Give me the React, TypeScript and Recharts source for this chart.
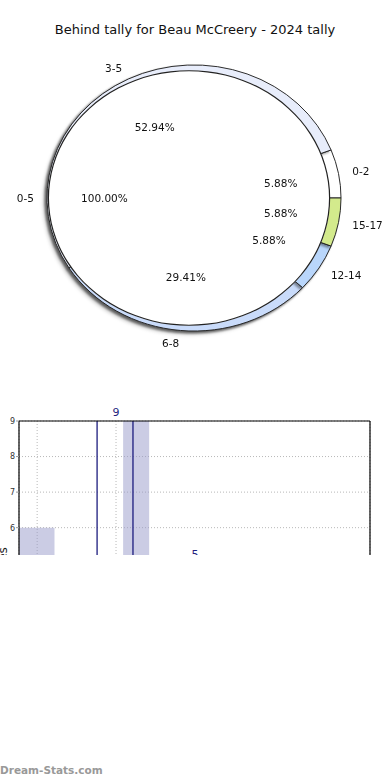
import React from 'react';
import {
  PieChart, Pie, Cell, ComposedChart, Line, XAxis, YAxis, CartesianGrid,
  ReferenceArea, ReferenceLine,
} from 'recharts';

// outer ring: tally ranges
const ringNames = ['0-2', '3-5', '6-8', '12-14', '15-17'];
const ringValues = [1, 9, 5, 1, 1];
const ringColors = ['#ffffff', '#e8edfb', '#c9dbfa', '#b9d6fb', '#d3ea8c'];

// inner pie
const coreNames = ['0-5'];
const coreValues = [17];

// lower chart
const yTicks = [0, 1, 2, 3, 4, 5, 6, 7, 8, 9];
const xTicks = [1, 2];
const xDomain = [0.77, 5.22];
const binStarts = [0.77, 2.09];
const binEnds = [1.22, 2.42];
const binValues = [6, 9];
const markerGames = [1.76, 2.215];
const labelGames = [2, 3];
const labelValues = [9, 5];

const ringData = ringNames.map((name, i) => ({ name, value: ringValues[i] }));
const coreData = coreNames.map((name, i) => ({ name, value: coreValues[i] }));
const labelPoints = labelGames.map((game, i) => ({ game, value: labelValues[i] }));

const RAD = Math.PI / 180;
const SQUASH = 0.905;
const PIE_CY = 198;
const FONT = 'DejaVu Sans';

// the whole pie svg is squashed into an ellipse, so text is stretched back
const renderPieLabel = (props: any) => {
  const { cx, cy, midAngle, outerRadius, percent, index } = props;
  const name = props.name ?? props.payload?.name;
  const c = Math.cos(-midAngle * RAD);
  const s = Math.sin(-midAngle * RAD);
  const rOut = outerRadius + 14;
  const rIn = outerRadius * 0.6;
  const anchor = c > 0.01 ? 'start' : c < -0.01 ? 'end' : 'middle';
  return (
    <g key={`lbl-${index}`}>
      <text
        transform={`translate(${cx + rOut * c},${cy + rOut * s}) scale(1,${1 / SQUASH})`}
        textAnchor={anchor}
        dominantBaseline="central"
        fontSize={10.5}
        fontFamily={FONT}
        fill="#111"
      >
        {name}
      </text>
      <text
        transform={`translate(${cx + rIn * c},${cy + rIn * s}) scale(1,${1 / SQUASH})`}
        textAnchor="middle"
        dominantBaseline="central"
        fontSize={10.5}
        fontFamily={FONT}
        fill="#111"
      >
        {(percent * 100).toFixed(2)}%
      </text>
    </g>
  );
};

const renderAxisTitle = (p: any) => {
  const vb = p && p.viewBox ? p.viewBox : { x: 0, y: 21, width: 19, height: 320 };
  const x = vb.x + 3;
  const y = vb.y + vb.height / 2;
  return (
    <text x={x} y={y} transform={`rotate(-90 ${x} ${y})`} textAnchor="middle"
      dominantBaseline="central" fontSize={12} fontFamily={FONT} fill="#222">
      Total tallies
    </text>
  );
};

export default function App() {
  return (
    <div style={{ position: 'relative', width: 390, height: 780, background: '#fff', fontFamily: FONT }}>
      <style>{`
        body { margin: 0; }
        .pie-box .ring-pie { filter: drop-shadow(-2px 2px 1px rgba(0,0,0,0.4)); }
      `}</style>

      <div style={{ position: 'absolute', top: 22, left: 0, width: 390, height: 16, lineHeight: '16px', textAlign: 'center', fontSize: 13, color: '#111' }}>
        Behind tally for Beau McCreery - 2024 tally
      </div>

      <div
        className="pie-box"
        style={{
          position: 'absolute', top: 0, left: 0, width: 390, height: 370,
          transformOrigin: `0px ${PIE_CY}px`, transform: `scaleY(${SQUASH})`,
        }}
      >
        <PieChart width={390} height={370} margin={{ top: 0, right: 0, bottom: 0, left: 0 }}>
          <Pie
            className="ring-pie"
            data={ringData}
            dataKey="value"
            nameKey="name"
            cx={194}
            cy={PIE_CY}
            innerRadius={118}
            outerRadius={147}
            startAngle={0}
            endAngle={360}
            stroke="#222"
            strokeWidth={1}
            label={renderPieLabel}
            labelLine={false}
            isAnimationActive={false}
          >
            {ringData.map((d, i) => (
              <Cell key={d.name} fill={ringColors[i]} />
            ))}
          </Pie>
          <Pie
            data={coreData}
            dataKey="value"
            nameKey="name"
            cx={189}
            cy={PIE_CY}
            innerRadius={0}
            outerRadius={141}
            startAngle={0}
            endAngle={360}
            fill="#ffffff"
            stroke="none"
            label={renderPieLabel}
            labelLine={false}
            isAnimationActive={false}
          />
          <Pie
            data={coreData}
            dataKey="value"
            cx={189}
            cy={PIE_CY}
            innerRadius={140}
            outerRadius={141.2}
            startAngle={0}
            endAngle={360}
            fill="#222"
            stroke="none"
            label={false}
            labelLine={false}
            isAnimationActive={false}
          />
        </PieChart>
      </div>

      <div style={{ position: 'absolute', top: 400, left: 0, width: 390, height: 155, overflow: 'hidden' }}>
        <ComposedChart width={390} height={371} margin={{ top: 21, right: 20, bottom: 0, left: 0 }}>
          <CartesianGrid stroke="#b8b8b8" strokeDasharray="1 2" />
          {binStarts.map((start, i) => (
            <ReferenceArea
              key={`bin-${i}`}
              x1={start}
              x2={binEnds[i]}
              y1={0}
              y2={binValues[i]}
              fill="#979ac9"
              fillOpacity={0.5}
              stroke="none"
              ifOverflow="hidden"
            />
          ))}
          {markerGames.map((g, i) => (
            <ReferenceLine key={`mk-${i}`} x={g} stroke="#1c1c7e" strokeWidth={1.3} />
          ))}
          <XAxis
            type="number"
            dataKey="game"
            domain={xDomain}
            ticks={xTicks}
            allowDataOverflow
            tick={{ fontSize: 8, fill: '#333' }}
            axisLine={{ stroke: '#000' }}
          />
          <YAxis
            type="number"
            domain={[0, 9]}
            ticks={yTicks}
            width={19}
            tickSize={3}
            tickMargin={1}
            tick={{ fontSize: 8, fill: '#333', fontFamily: FONT }}
            tickLine={{ stroke: '#999' }}
            axisLine={{ stroke: '#000', strokeWidth: 1.2 }}
            label={renderAxisTitle}
          />
          <ReferenceLine y={9} stroke="#000" strokeWidth={1.2} />
          <ReferenceLine x={xDomain[1]} stroke="#000" strokeWidth={1.2} />
          <Line
            data={labelPoints}
            dataKey="value"
            stroke="none"
            dot={false}
            activeDot={false}
            label={{ position: 'top', fill: '#1f1f80', fontSize: 11, fontFamily: FONT }}
            isAnimationActive={false}
          />
        </ComposedChart>
      </div>

      <div style={{ position: 'absolute', left: 0, top: 762, fontSize: 10.5, fontWeight: 'bold', color: '#999', lineHeight: '16px' }}>
        Dream-Stats.com
      </div>
    </div>
  );
}
